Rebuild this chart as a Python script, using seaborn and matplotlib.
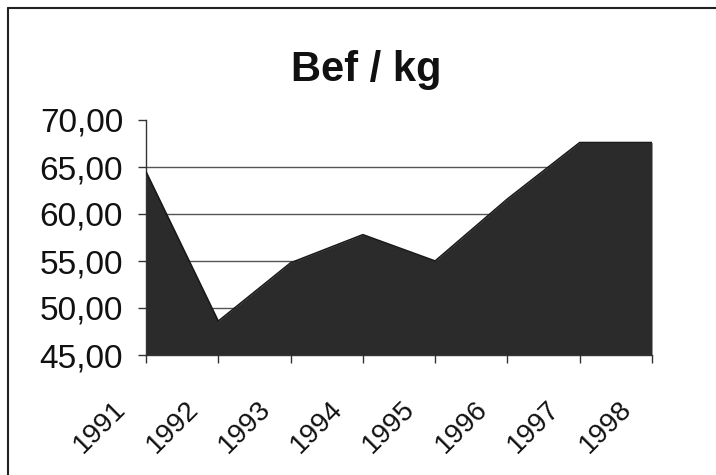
import numpy as np
import pandas as pd
import matplotlib.pyplot as plt
import seaborn as sns
from matplotlib.lines import Line2D
from matplotlib.transforms import ScaledTranslation

# values
years = ["1991", "1992", "1993", "1994", "1995", "1996", "1997", "1998"]
bef_per_kg = [64.5, 48.6, 54.8, 57.8, 55.0, 61.6, 67.6, 67.6]
yticks = [45, 50, 55, 60, 65, 70]

df = pd.DataFrame({"pos": np.arange(len(years)), "value": bef_per_kg})

sns.set_theme(style="white")
plt.rcParams['font.family'] = ['Liberation Sans', 'DejaVu Sans']

fig = plt.figure(figsize=(7.16, 4.75), dpi=100)
ax = fig.add_axes([146 / 716, 1 - 355 / 475, (652 - 146) / 716, (355 - 120) / 475])

fill = "#2b2b2b"
ax.fill_between(df["pos"], 45, df["value"], color=fill, linewidth=0, zorder=2)
sns.lineplot(data=df, x="pos", y="value", ax=ax, color="#1a1a1a", linewidth=1.2, zorder=3)

ax.set_xlim(0, len(years) - 1)
ax.set_ylim(45, 70)
ax.set_yticks(yticks)
ax.set_yticklabels([f"{v:.2f}".replace(".", ",") for v in yticks], fontsize=24)
ax.set_xticks(df["pos"])
ax.set_xticklabels(years, fontsize=20, rotation=45, ha="right", va="center",
                   rotation_mode="anchor")

for v in yticks[1:-1]:
    ax.axhline(v, color="#555555", linewidth=1, zorder=1)

for s in ["top", "right"]:
    ax.spines[s].set_visible(False)
for s in ["left", "bottom"]:
    ax.spines[s].set_color("#333333")
    ax.spines[s].set_linewidth(1)
ax.tick_params(axis="both", direction="out", length=5.5, width=1, color="#333333",
               left=True, bottom=True, labelcolor="#111111")
ax.tick_params(axis="x", pad=31)
ax.tick_params(axis="y", pad=11)
ax.set_xlabel("")
ax.set_ylabel("")

# move the year labels a little left of their ticks
shift = ScaledTranslation(-24 / 100, 0, fig.dpi_scale_trans)
for lab in ax.get_xticklabels():
    lab.set_transform(lab.get_transform() + shift)

fig.text(0.511, 1 - 70 / 475, "Bef / kg", ha="center", va="center",
         fontsize=30, fontweight="bold", color="#111111")

# chart frame (only the top and left edges fall inside the picture)
fig.add_artist(Line2D([8 / 716, 8 / 716], [0, 1 - 8 / 475], color="#222222", linewidth=1.5))
fig.add_artist(Line2D([8 / 716, 1], [1 - 8 / 475, 1 - 8 / 475], color="#222222", linewidth=1.5))

fig.savefig("out.png", dpi=100)
